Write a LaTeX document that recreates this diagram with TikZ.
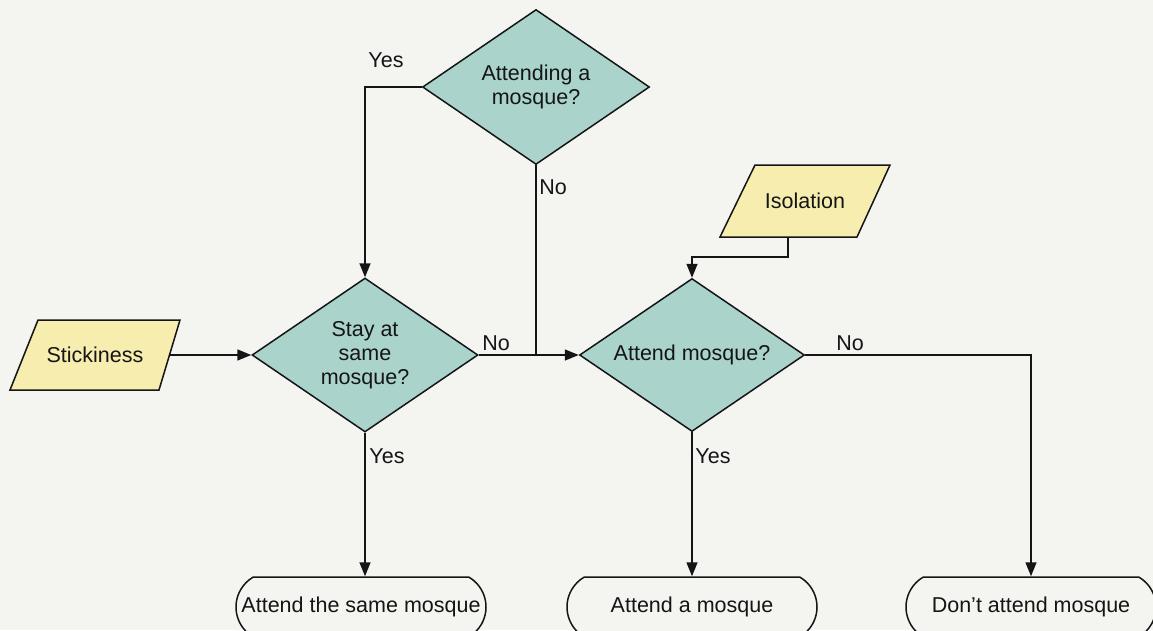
\documentclass[tikz,border=0pt]{standalone}
\usepackage{fontspec}
\setmainfont{Liberation Sans}
\usetikzlibrary{shapes.geometric,shapes.misc,arrows.meta,calc}
\definecolor{bg}{HTML}{F4F4F1}
\definecolor{dfill}{HTML}{A9D3CB}
\definecolor{pfill}{HTML}{F7EDAE}
\definecolor{ink}{HTML}{151515}
\begin{document}
\begin{tikzpicture}[x=1pt,y=-1pt,
  font=\fontsize{21.5}{24}\selectfont,
  every node/.style={text=ink},
  dec/.style={diamond, aspect=1.46, draw=ink, line width=1.5pt, fill=dfill, inner sep=0pt, align=center},
  parashape/.style={draw=ink, line width=1.5pt, fill=pfill, line join=miter},
  parabox/.style={rectangle, inner sep=0pt, minimum height=70pt},
  term/.style={rounded rectangle, rounded rectangle arc length=120, draw=ink, line width=1.5pt, fill=bg, minimum width=250pt, minimum height=60pt, inner sep=0pt},
  conn/.style={draw=ink, line width=1.5pt},
  arr/.style={conn, -{Triangle[length=14pt,width=11pt]}},
  lbl/.style={inner sep=0pt}
]
\useasboundingbox (0,0) rectangle (1153,630);
\clip (0,0) rectangle (1153,630);
\fill[bg] (0,0) rectangle (1153,630);

% parallelogram outlines
\coordinate (sc) at (95,355);
\filldraw[parashape] ($(sc)+(-85,35)$) -- ($(sc)+(64,35)$) -- ($(sc)+(85,-35)$) -- ($(sc)+(-57,-35)$) -- cycle;
\coordinate (ic) at (805,201);
\filldraw[parashape] ($(ic)+(-85,36)$) -- ($(ic)+(52,36)$) -- ($(ic)+(85,-36)$) -- ($(ic)+(-50,-36)$) -- cycle;

\node[parabox, minimum width=150pt] (stick) at (sc) {Stickiness};
\node[parabox, minimum width=130pt, minimum height=72pt] (iso) at (ic) {Isolation};
\coordinate (isob) at (788,237);

\node[dec, minimum width=227pt, minimum height=155pt] (q1) at (536,87) {Attending a\\mosque?};
\node[dec, minimum width=226pt, minimum height=154pt] (stay) at (365,355) {Stay at\\same\\mosque?};
\node[dec, minimum width=225pt, minimum height=153pt] (att) at (692,355) {Attend mosque?};
\node[term] (o1) at (361,607) {Attend the same mosque};
\node[term] (o2) at (692,607) {Attend a mosque};
\node[term] (o3) at (1031,607) {Don’t attend mosque};

\coordinate (j) at (536,355);

\draw[arr] (stick.east) -- (stay.west);
\draw[arr] (q1.west) -| (stay.north);
\draw[conn] (q1.south) -- (j);
\draw[arr] (stay.east) -- (att.west);
\draw[arr] (isob) -- ++(0,20) -| (att.north);
\draw[arr] (att.east) -| (o3.north);
\draw[arr] (stay.south) -- (stay.south |- o1.north);
\draw[arr] (att.south) -- (att.south |- o2.north);

\node[lbl] (l1) at (386,60) {Yes};
\node[lbl] (l2) at (553,187) {No};
\node[lbl] (l3) at (496,343) {No};
\node[lbl] (l4) at (850,343) {No};
\node[lbl] (l5) at (387,456) {Yes};
\node[lbl] (l6) at (713,456) {Yes};
\end{tikzpicture}
\end{document}
